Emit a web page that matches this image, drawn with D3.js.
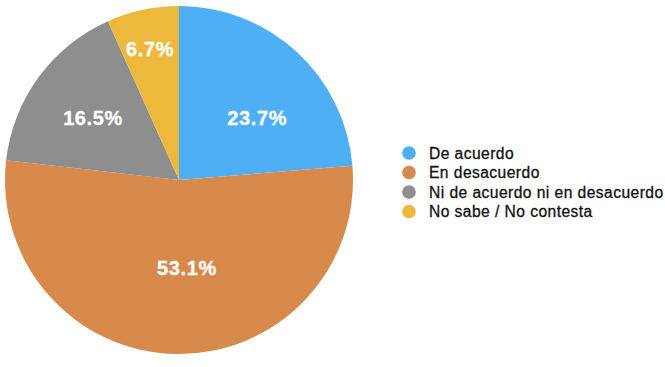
<!DOCTYPE html>
<html>
<head>
<meta charset="utf-8">
<script src="https://cdn.jsdelivr.net/npm/d3@7"></script>
<style>
html,body{margin:0;padding:0;background:#fff;overflow:hidden;}
svg{display:block;}
</style>
</head>
<body>
<svg id="chart" width="665" height="367"></svg>
<script>
const categories = ["De acuerdo", "En desacuerdo", "Ni de acuerdo ni en desacuerdo", "No sabe / No contesta"];
const values = [23.7, 53.1, 16.5, 6.7];
const labels = ["23.7%", "53.1%", "16.5%", "6.7%"];
const colors = ["#4EAFF5", "#D8894C", "#8E8E8E", "#EDB93D"];

const svg = d3.select("#chart");
const cx = 179, cy = 180, R = 174;

const pie = d3.pie().sort(null).value(d => d)(values);
const arc = d3.arc().innerRadius(0).outerRadius(R);

const g = svg.append("g").attr("transform", `translate(${cx},${cy})`);
g.selectAll("path").data(pie).join("path")
  .attr("d", arc)
  .attr("fill", (d, i) => colors[i]);

// label placement tweaks (angle shift in degrees, radius in px)
const labelTweak = [[8.8, 100], [-6.1, 88], [-0.4, 106], [-0.4, 134]];
g.selectAll("text.lbl").data(pie).join("text")
  .attr("class", "lbl")
  .attr("transform", (d, i) => {
    const a = (d.startAngle + d.endAngle) / 2 + labelTweak[i][0] * Math.PI / 180;
    const r = labelTweak[i][1];
    return `translate(${r * Math.sin(a)},${-r * Math.cos(a)})`;
  })
  .attr("text-anchor", "middle")
  .attr("dy", "0.36em")
  .attr("fill", "#fff")
  .attr("stroke", "#fff")
  .attr("stroke-width", 0.3)
  .attr("font-family", "Liberation Sans, Arial, Helvetica, sans-serif")
  .attr("font-weight", "bold")
  .attr("font-size", 20)
  .attr("letter-spacing", 0.6)
  .text((d, i) => labels[i]);

const legend = svg.append("g").attr("transform", "translate(409,153)");
const ly = d3.scalePoint().domain(categories).range([0, 58.5]);
const items = legend.selectAll("g").data(categories).join("g")
  .attr("transform", d => `translate(0,${ly(d)})`);
items.append("circle").attr("r", 6.8).attr("fill", (d, i) => colors[i]);
items.append("text")
  .attr("x", 20)
  .attr("dy", "0.36em")
  .attr("fill", "#111")
  .attr("stroke", "#111")
  .attr("stroke-width", 0.3)
  .attr("font-family", "Liberation Sans, Arial, Helvetica, sans-serif")
  .attr("font-size", 15.6)
  .attr("letter-spacing", 0.45)
  .text(d => d);
</script>
</body>
</html>
